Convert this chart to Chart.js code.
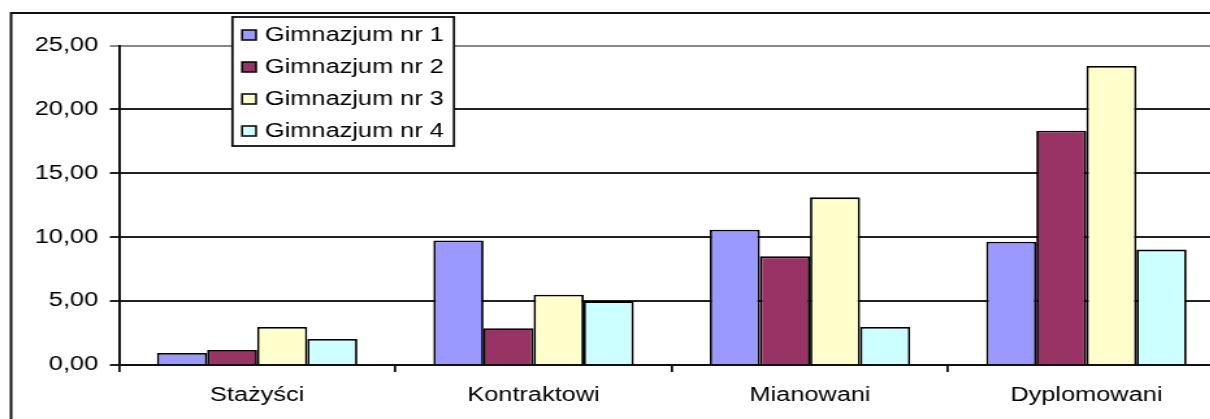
<!DOCTYPE html>
<html>
<head>
<meta charset="utf-8">
<title>Nauczyciele wg stopnia awansu</title>
<script src="https://cdn.jsdelivr.net/npm/chart.js@4/dist/chart.umd.min.js"></script>
<style>
  html, body { margin: 0; padding: 0; background: #fff; overflow: hidden; }
  #wrap { width: 1210px; height: 419px; overflow: hidden; }
</style>
</head>
<body>
<div id="wrap">
  <!-- wykres rysowany na wezszym plotnie i rozciagniety w poziomie -->
  <canvas id="wykres" width="950" height="425" style="width:1235px;height:425px"></canvas>
</div>
<script>
const kategorie = ["Stażyści", "Kontraktowi", "Mianowani", "Dyplomowani"];
const gimnazjum1 = [0.94, 9.74, 10.59, 9.64];
const gimnazjum2 = [1.18, 2.88, 8.50, 18.33];
const gimnazjum3 = [2.98, 5.50, 13.12, 23.40];
const gimnazjum4 = [2.04, 5.00, 2.98, 9.03];
const nazwySzkol = ["Gimnazjum nr 1", "Gimnazjum nr 2", "Gimnazjum nr 3", "Gimnazjum nr 4"];
const kolory = ["#9999FF", "#993366", "#FFFFCC", "#CCFFFF"];
const osYMin = 0, osYMax = 25, osYKrok = 5;

const czcionka = "'Liberation Sans', Arial, sans-serif";
Chart.defaults.font.family = czcionka;
Chart.defaults.font.size = 19.5;
Chart.defaults.color = "#000";

const formatPL = v => v.toFixed(2).replace(".", ",");

// ramka dookola calego wykresu
const ramka = {
  id: "ramka",
  beforeDraw(chart) {
    const ctx = chart.ctx;
    ctx.save();
    ctx.fillStyle = "#fff";
    ctx.fillRect(0, 0, chart.width, chart.height);
    ctx.strokeStyle = "#111";
    ctx.lineWidth = 2;
    ctx.strokeRect(8.5, 13, chart.width + 20, chart.height + 20);
    ctx.restore();
  }
};

// legenda w ramce, w lewym gornym rogu obszaru wykresu
const legendaRamka = {
  id: "legendaRamka",
  afterDraw(chart) {
    const ctx = chart.ctx;
    const x0 = 178.8, y0 = 17, w = 170.4, h = 129;
    ctx.save();
    ctx.fillStyle = "#fff";
    ctx.fillRect(x0, y0, w, h);
    ctx.strokeStyle = "#111";
    ctx.lineWidth = 1.8;
    ctx.strokeRect(x0, y0, w, h);
    ctx.font = "19.5px " + czcionka;
    ctx.textBaseline = "middle";
    chart.data.datasets.forEach((ds, i) => {
      const yc = 35 + i * 32;
      ctx.fillStyle = ds.backgroundColor;
      ctx.fillRect(186.2, yc - 5, 10.8, 10);
      ctx.lineWidth = 1.5;
      ctx.strokeStyle = "#000";
      ctx.strokeRect(186.2, yc - 5, 10.8, 10);
      ctx.fillStyle = "#000";
      ctx.fillText(ds.label, 203.8, yc + 1);
    });
    ctx.restore();
  }
};

const serie = [gimnazjum1, gimnazjum2, gimnazjum3, gimnazjum4];

new Chart(document.getElementById("wykres"), {
  type: "bar",
  data: {
    labels: kategorie,
    datasets: serie.map((dane, i) => ({
      label: nazwySzkol[i],
      data: dane,
      backgroundColor: kolory[i],
      borderColor: "#000",
      borderWidth: 1.8,
      categoryPercentage: 0.725,
      barPercentage: 1.0
    }))
  },
  options: {
    responsive: false,
    animation: false,
    devicePixelRatio: 1,
    layout: { padding: { left: 0, top: 45.5, right: 8, bottom: 0 } },
    plugins: {
      legend: { display: false },
      tooltip: { enabled: false }
    },
    scales: {
      x: {
        afterFit: s => { s.height = 60; },
        grid: {
          drawOnChartArea: false,
          drawTicks: true,
          tickLength: 7,
          color: "#111",
          lineWidth: 1.8
        },
        border: { display: true, color: "#111", width: 2 },
        ticks: { padding: 12 }
      },
      y: {
        min: osYMin,
        max: osYMax,
        afterFit: s => { s.width = 91.5; },
        ticks: {
          stepSize: osYKrok,
          padding: 9,
          callback: v => formatPL(v)
        },
        grid: {
          color: c => (c.tick && c.tick.value === osYMax ? "#888" : "#222"),
          lineWidth: 2,
          tickLength: 7
        },
        border: { display: true, color: "#111", width: 2 }
      }
    }
  },
  plugins: [ramka, legendaRamka]
});
</script>
</body>
</html>
